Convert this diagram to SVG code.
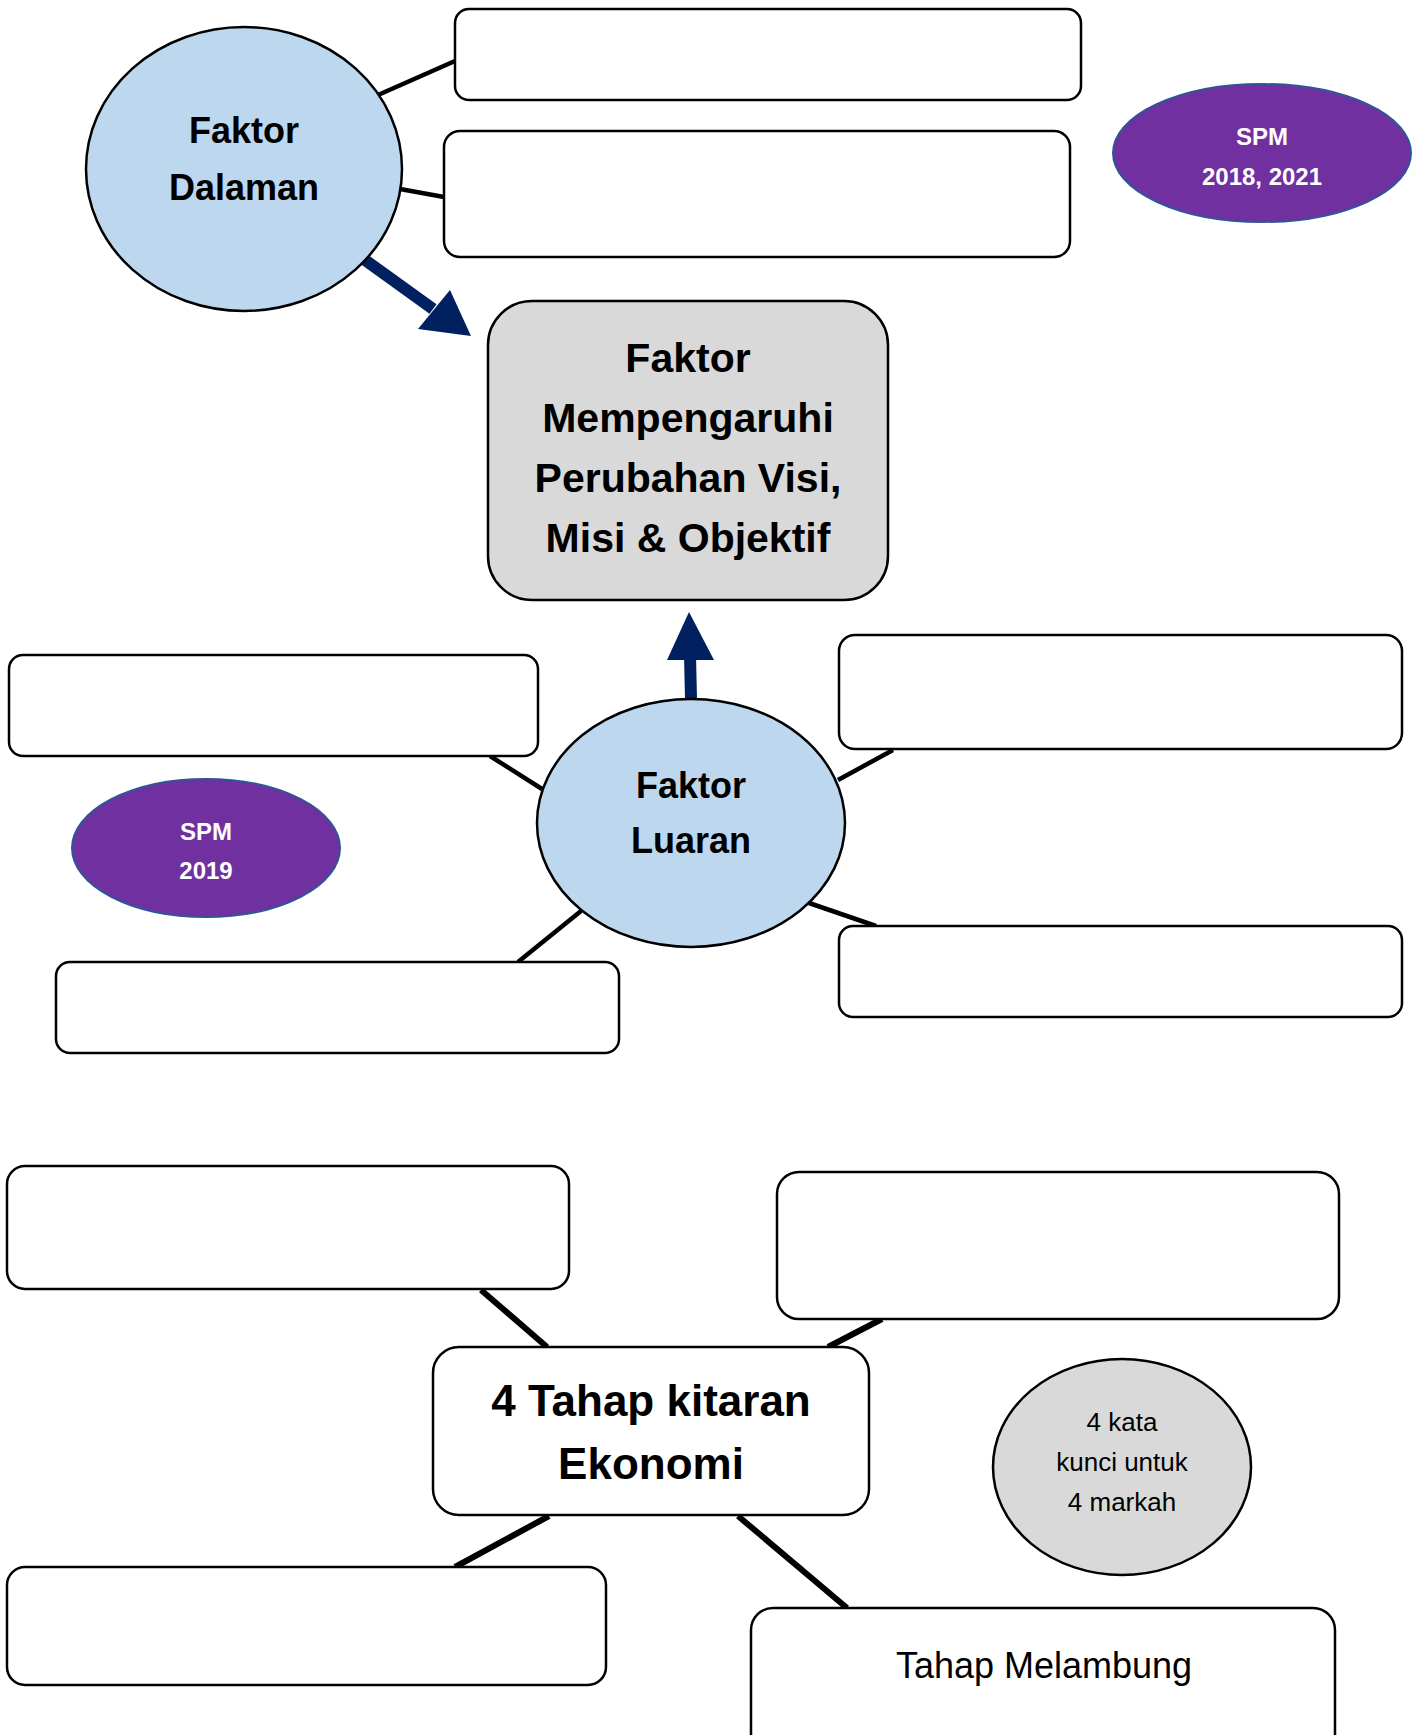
<svg xmlns="http://www.w3.org/2000/svg" width="1412" height="1735" viewBox="0 0 1412 1735">
<style>
.box{fill:#fff;stroke:#000;stroke-width:2.5}
.node{fill:#BDD7EE;stroke:#000;stroke-width:2.5}
.spm{fill:#7030A0;stroke:#2F5597;stroke-width:2}
.gray{fill:#D9D9D9;stroke:#000;stroke-width:2.5}
.ln{stroke:#000;stroke-width:4.5;fill:none}
.ln2{stroke:#000;stroke-width:6;fill:none}
.arr{stroke:#002060;stroke-width:12;fill:none}
.t{font-family:"Comic Sans MS","Liberation Sans",sans-serif;text-anchor:middle;fill:#000}
.b{font-weight:bold}
.w{fill:#fff}
</style>
<rect width="1412" height="1735" fill="#fff"/>
<g id="connectors">
<line class="ln" x1="378" y1="95" x2="455" y2="61"/>
<line class="ln" x1="400" y1="189" x2="444" y2="197"/>
<line class="ln" x1="490" y1="756" x2="542" y2="789"/>
<line class="ln" x1="518" y1="962" x2="581" y2="911"/>
<line class="ln" x1="893" y1="750" x2="838" y2="780"/>
<line class="ln" x1="809" y1="903" x2="876" y2="926"/>
<line class="arr" x1="365" y1="260" x2="433" y2="309"/>
<polygon points="471,336 418,329 450,290" fill="#002060"/>
<line class="arr" x1="691" y1="699" x2="690" y2="655"/>
<polygon points="689,612 667,660 714,660" fill="#002060"/>
<line class="ln2" x1="481" y1="1290" x2="547" y2="1347"/>
<line class="ln2" x1="882" y1="1319" x2="828" y2="1347"/>
<line class="ln2" x1="549" y1="1516" x2="455" y2="1567"/>
<line class="ln2" x1="738" y1="1516" x2="847" y2="1608"/>
</g>
<g id="faktor-dalaman">
<ellipse class="node" cx="244" cy="169" rx="158" ry="142"/>
<text class="t b" x="244" y="143" font-size="36">Faktor</text>
<text class="t b" x="244" y="200" font-size="36">Dalaman</text>
</g>
<g id="box-d1"><rect class="box" x="455" y="9" width="626" height="91" rx="14"/></g>
<g id="box-d2"><rect class="box" x="444" y="131" width="626" height="126" rx="16"/></g>
<g id="spm-2018">
<ellipse class="spm" cx="1262" cy="153" rx="149" ry="69"/>
<text class="t b w" x="1262" y="145" font-size="24">SPM</text>
<text class="t b w" x="1262" y="185" font-size="24">2018, 2021</text>
</g>
<g id="central">
<rect class="gray" x="488" y="301" width="400" height="299" rx="44"/>
<text class="t b" x="688" y="372" font-size="41">Faktor</text>
<text class="t b" x="688" y="432" font-size="41">Mempengaruhi</text>
<text class="t b" x="688" y="492" font-size="41">Perubahan Visi,</text>
<text class="t b" x="688" y="552" font-size="41">Misi &amp; Objektif</text>
</g>
<g id="faktor-luaran">
<ellipse class="node" cx="691" cy="823" rx="154" ry="124"/>
<text class="t b" x="691" y="798" font-size="36">Faktor</text>
<text class="t b" x="691" y="853" font-size="36">Luaran</text>
</g>
<g id="box-l1"><rect class="box" x="9" y="655" width="529" height="101" rx="14"/></g>
<g id="box-l2"><rect class="box" x="56" y="962" width="563" height="91" rx="14"/></g>
<g id="box-l3"><rect class="box" x="839" y="635" width="563" height="114" rx="16"/></g>
<g id="box-l4"><rect class="box" x="839" y="926" width="563" height="91" rx="14"/></g>
<g id="spm-2019">
<ellipse class="spm" cx="206" cy="848" rx="134" ry="69"/>
<text class="t b w" x="206" y="840" font-size="24">SPM</text>
<text class="t b w" x="206" y="879" font-size="24">2019</text>
</g>
<g id="kitaran">
<rect class="box" x="433" y="1347" width="436" height="168" rx="26"/>
<text class="t b" x="651" y="1416" font-size="44">4 Tahap kitaran</text>
<text class="t b" x="651" y="1479" font-size="44">Ekonomi</text>
</g>
<g id="box-k1"><rect class="box" x="7" y="1166" width="562" height="123" rx="18"/></g>
<g id="box-k2"><rect class="box" x="777" y="1172" width="562" height="147" rx="22"/></g>
<g id="box-k3"><rect class="box" x="7" y="1567" width="599" height="118" rx="18"/></g>
<g id="box-k4">
<rect class="box" x="751" y="1608" width="584" height="150" rx="22"/>
<text class="t" x="1044" y="1678" font-size="36">Tahap Melambung</text>
</g>
<g id="kata-kunci">
<ellipse class="gray" cx="1122" cy="1467" rx="129" ry="108"/>
<text class="t" x="1122" y="1431" font-size="26">4 kata</text>
<text class="t" x="1122" y="1471" font-size="26">kunci untuk</text>
<text class="t" x="1122" y="1511" font-size="26">4 markah</text>
</g>
</svg>
